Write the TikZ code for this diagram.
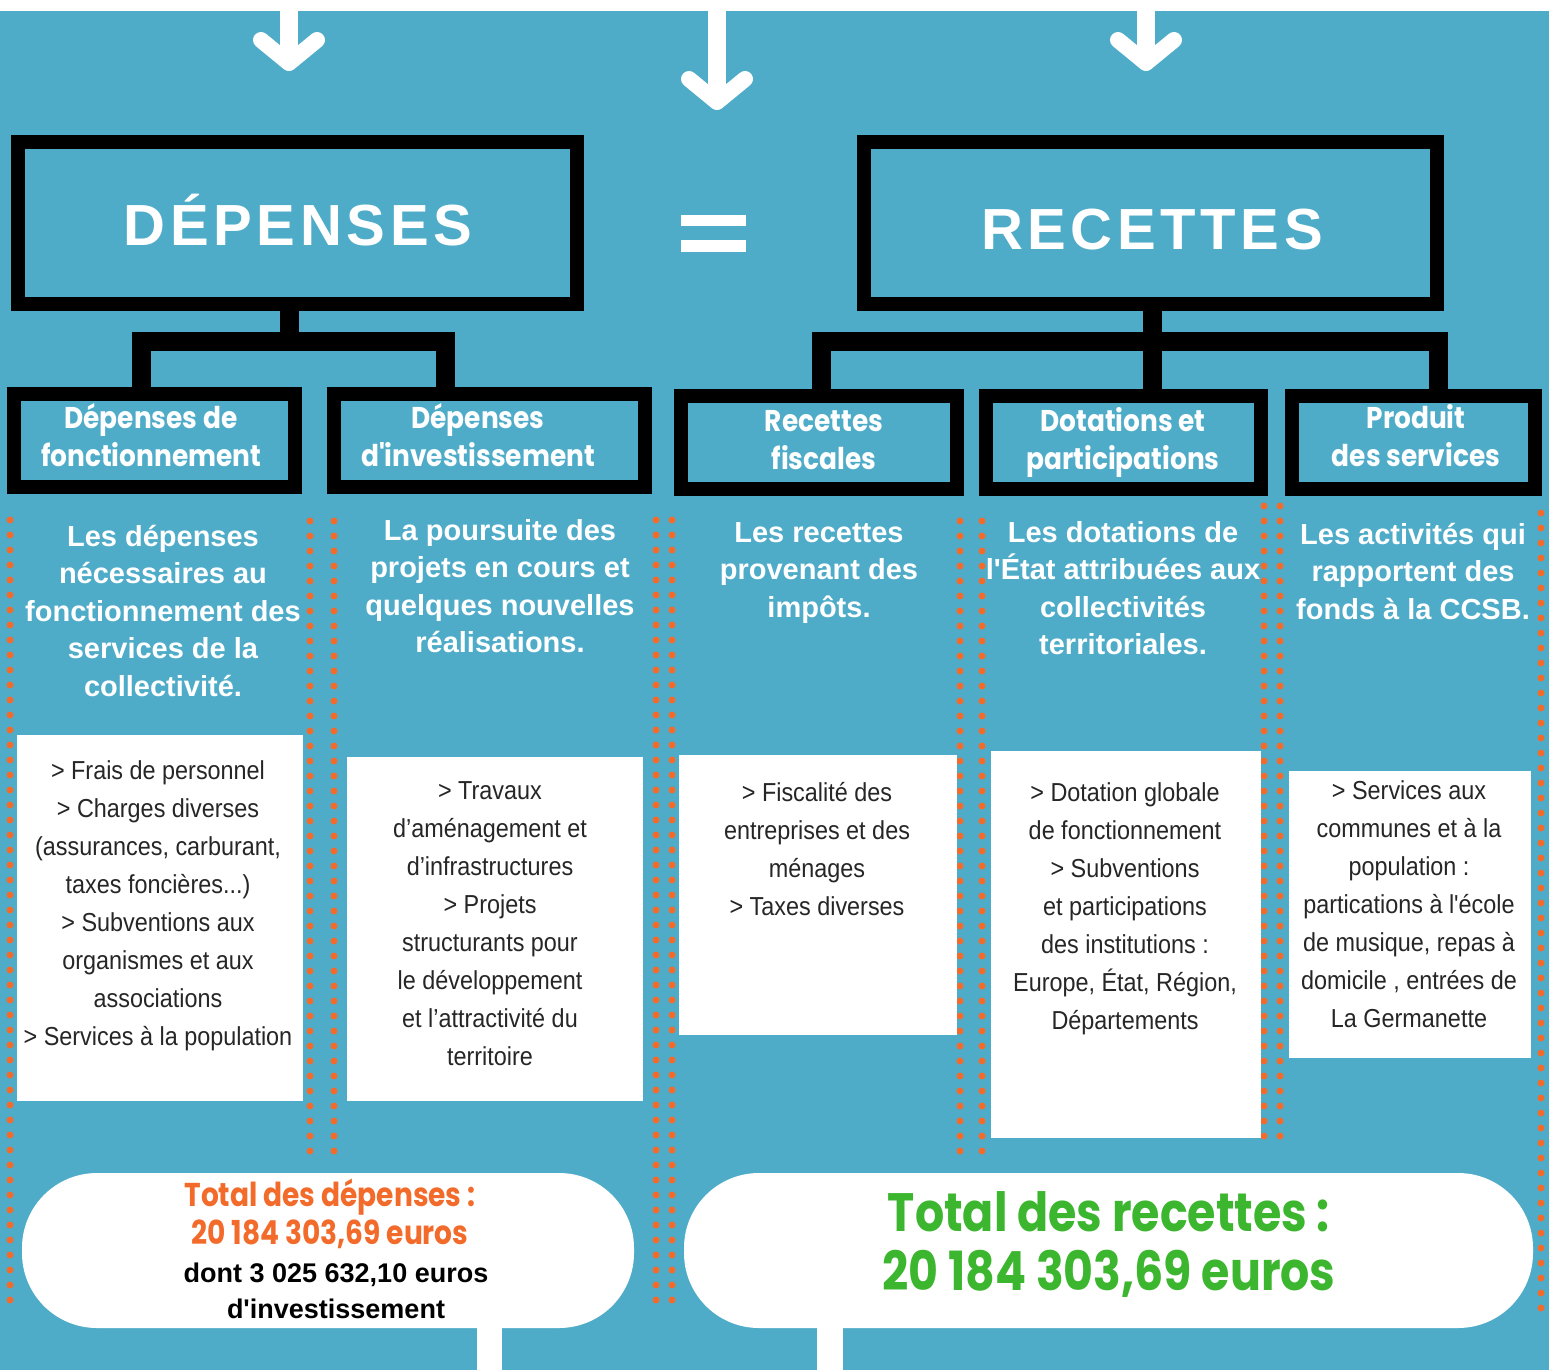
\documentclass[tikz,border=0pt]{standalone}
\usepackage{fontspec}
\setmainfont{Liberation Sans}
\newfontfamily\listfont{Liberation Sans}[FakeStretch=0.9]
\newfontfamily\spartan{Poppins}[FakeStretch=0.88]
\newfontfamily\spartantot{Poppins}[FakeStretch=0.85]
\usetikzlibrary{positioning}

\definecolor{bgblue}{HTML}{4FACC9}
\definecolor{dotorange}{HTML}{F26B2A}
\definecolor{totgreen}{HTML}{3BB62E}

\tikzset{
  frame/.style={draw=black, line width=14pt, inner sep=0pt, outer sep=0pt},
  card/.style={fill=white, inner sep=0pt, outer sep=0pt},
  bar/.style={draw=black, line width=19pt, line join=miter},
  dotline/.style={color=dotorange, line width=7pt, line cap=round, dash pattern=on 0pt off 15pt},
  flow/.style={draw=white, line width=18pt},
  flowhead/.style={draw=white, line width=16pt, line cap=round, line join=round},
  title/.style={text=white, inner sep=0pt, font=\bfseries\fontsize{58}{60}\selectfont\addfontfeatures{LetterSpace=8}},
  head/.style={text=white, align=center, inner sep=0pt, anchor=north, font=\spartan\bfseries\fontsize{30}{38.5}\selectfont},
  desc/.style={text=white, align=center, inner sep=0pt, anchor=north, font=\bfseries\fontsize{29}{37.5}\selectfont},
  items/.style={text=black!85, align=center, inner sep=0pt, anchor=north, font=\listfont\fontsize{26}{38}\selectfont}
}

\begin{document}
\begin{tikzpicture}[x=1pt, y=-1pt]
\useasboundingbox (0,0) rectangle (1549,1370);
\fill[white] (0,0) rectangle (1549,1370);
\fill[bgblue] (0,11) rectangle (1549,1370);

% dotted separators
\foreach \x/\ya/\yb in {10/520/1310, 310/521/1163, 334/521/1163, 656/520/1310, 672/520/1310,
                        960/521/1163, 982/521/1163, 1264/506/1148, 1280/506/1148, 1541/513/1318}
  \draw[dotline] (\x,\ya) -- (\x,\yb);

% arrows coming in from the top
\foreach \x/\d in {289/52, 717/91, 1146/52} {
  \coordinate (in\x) at (\x,11);
  \draw[flow] (in\x) -- ++(0,\d-3);
  \draw[flowhead] ([shift={(-28,\d-23)}]in\x) -- ([shift={(0,\d)}]in\x) -- ([shift={(28,\d-23)}]in\x);
}

% main boxes
\node[frame, minimum width=559pt, minimum height=162pt] (dep) at (297.5,223) {};
\node[title, anchor=base] (depT) at (298,245) {DÉPENSES};
\node[frame, minimum width=573pt, minimum height=162pt] (rec) at (1150.5,223) {};
\node[title, anchor=base] (recT) at (1152,249) {RECETTES};
% equal sign
\fill[white] (681,215) rectangle (746,226);
\fill[white] (681,240) rectangle (746,252);

% sub boxes
\node[frame, minimum width=281pt, minimum height=93pt] (depF) at (154.5,440.5) {};
\node[frame, minimum width=311pt, minimum height=93pt] (depI) at (489.5,440.5) {};
\node[frame, minimum width=276pt, minimum height=93pt] (recF) at (819,442.5) {};
\node[frame, minimum width=275pt, minimum height=93pt] (dot) at (1123.5,442.5) {};
\node[frame, minimum width=243pt, minimum height=93pt] (prod) at (1413.5,442.5) {};

\node[head] (depFt) at (151,401) {\strut Dépenses de\\fonctionnement};
\node[head] (depIt) at (478,401) {\strut Dépenses\\d'investissement};
\node[head] (recFt) at (824,404) {\strut Recettes\\fiscales};
\node[head] (dott) at (1123,404) {\strut Dotations et\\participations};
\node[head] (prodt) at (1416,401) {\strut Produit\\des services};

% tree bars
\coordinate (busD) at (289.5,341);
\coordinate (busR) at (1152,341);
\draw[bar] (busD |- dep.south) -- (busD);
\draw[bar] ([xshift=-13.5pt]depF.north) |- (busD) -| ([xshift=-44.5pt]depI.north);
\draw[bar] (busR |- rec.south) -- (busR);
\draw[bar] ([xshift=2.5pt]recF.north) |- (busR) -| ([xshift=24.5pt]prod.north);
\draw[bar] (busR) -- (busR |- dot.north);

% descriptions
\node[desc] (depFd) at (163,519.75) {\strut Les dépenses\\nécessaires au\\fonctionnement des\\services de la\\collectivité.};
\node[desc] (depId) at (500,513.75) {\strut La poursuite des\\projets en cours et\\quelques nouvelles\\réalisations.};
\node[desc] (recFd) at (819,515.75) {\strut Les\ recettes\\provenant des\\impôts.};
\node[desc] (dotd) at (1123,515.75) {\strut Les dotations de\\l\textquotesingle État attribuées aux\\collectivités\\territoriales.};
\node[desc] (prodd) at (1413,517.75) {\strut Les activités qui\\rapportent des\\fonds à la CCSB.};

% white cards
\node[card, minimum width=286pt, minimum height=366pt] (depFc) at (160,918) {};
\node[card, minimum width=296pt, minimum height=344pt] (depIc) at (495,929) {};
\node[card, minimum width=278pt, minimum height=280pt] (recFc) at (818,895) {};
\node[card, minimum width=270pt, minimum height=387pt] (dotc) at (1126,944.5) {};
\node[card, minimum width=242pt, minimum height=287pt] (prodc) at (1410,914.5) {};

\node[items] (depFi) at (158,752.4) {\strut > Frais de personnel\\> Charges diverses\\(assurances, carburant,\\taxes foncières...)\\> Subventions aux\\organismes et aux\\associations\\> Services à la population};
\node[items] (depIi) at (490,772.4) {\strut > Travaux\\d’aménagement et\\d’infrastructures\\> Projets\\structurants pour\\le développement\\et l’attractivité du\\territoire};
\node[items] (recFi) at (817,774.4) {\strut > Fiscalité des\\entreprises et des\\ménages\\> Taxes diverses};
\node[items] (doti) at (1125,774.4) {\strut > Dotation globale\\de fonctionnement\\> Subventions\\et participations\\des institutions :\\Europe, État, Région,\\Départements};
\node[items] (prodi) at (1409,772.4) {\strut > Services aux\\communes et à la\\population :\\partications à l'école\\de musique, repas à\\domicile , entrées de\\La Germanette};

% totals
\node[card, rounded corners=75pt, minimum width=612pt, minimum height=155pt] (totD) at (328,1250.5) {};
\node[card, rounded corners=75pt, minimum width=849pt, minimum height=155pt] (totR) at (1108.5,1250.5) {};
\coordinate (outD) at (489.5,1370);
\coordinate (outR) at (830,1370);
\draw[white, line width=25pt] (outD |- totD.south) -- (outD);
\draw[white, line width=26pt] (outR |- totR.south) -- (outR);

\node[text=dotorange, align=center, inner sep=0pt, anchor=north, font=\spartantot\bfseries\fontsize{33}{38}\selectfont] (totDt) at (330,1178.4) {\strut Total des dépenses :\\20 184 303,69 euros};
\node[text=black, align=center, inner sep=0pt, anchor=north, font=\bfseries\fontsize{27}{36.5}\selectfont] (totDn) at (336,1256.45) {\strut dont 3 025 632,10 euros\\d\textquotesingle investissement};
\node[text=totgreen, align=center, inner sep=0pt, anchor=north, font=\spartantot\bfseries\fontsize{54}{59}\selectfont] (totRt) at (1109,1189.7) {\strut Total des recettes :\\20 184 303,69 euros};
\end{tikzpicture}
\end{document}
